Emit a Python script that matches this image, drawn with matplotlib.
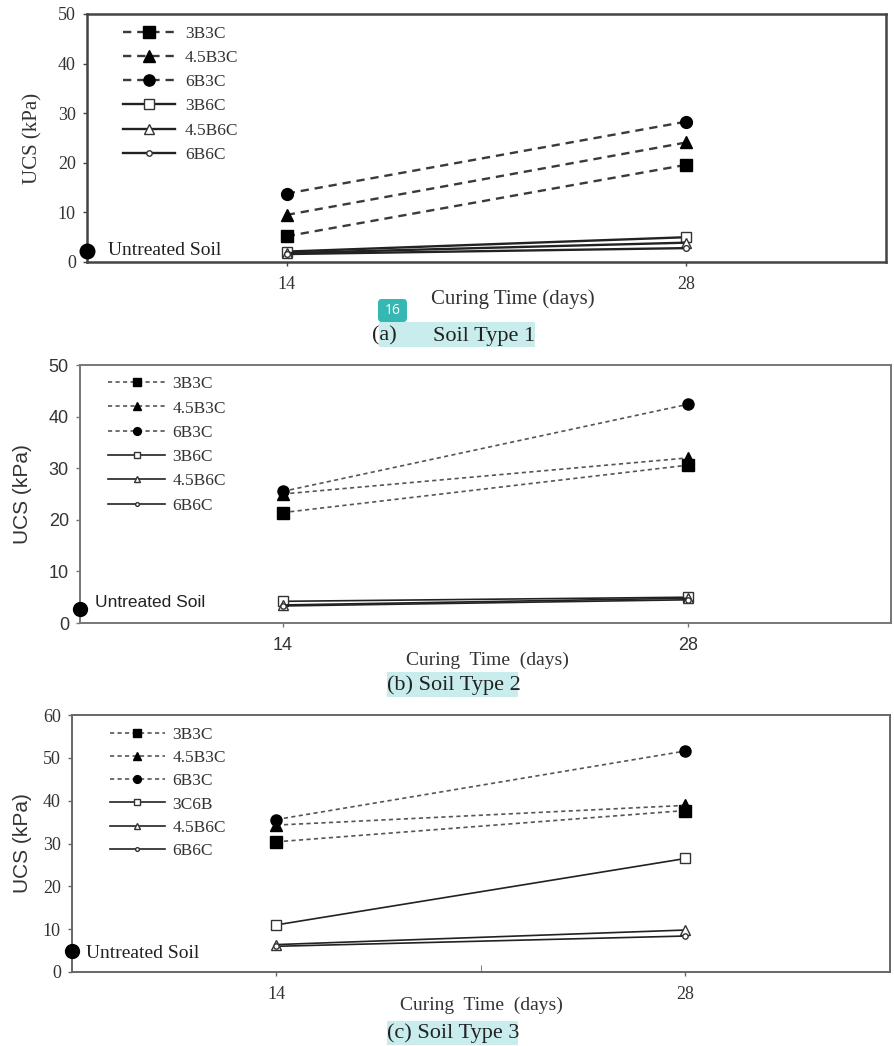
import matplotlib
matplotlib.use("Agg")
import matplotlib.pyplot as plt
from matplotlib.patches import Rectangle, FancyBboxPatch

# datos
days = [14, 28]
labels_ab = ["3B3C", "4.5B3C", "6B3C", "3B6C", "4.5B6C", "6B6C"]
labels_c = ["3B3C", "4.5B3C", "6B3C", "3C6B", "4.5B6C", "6B6C"]

soil1 = [[5.2, 19.6], [9.5, 24.1], [13.8, 28.3], [2.1, 5.0], [1.8, 3.9], [1.6, 2.8]]
soil2 = [[21.4, 30.6], [25.0, 32.0], [25.5, 42.4], [4.2, 5.0], [3.5, 4.8], [3.3, 4.5]]
soil3 = [[30.4, 37.7], [34.3, 38.9], [35.6, 51.6], [11.0, 26.5], [6.4, 9.8], [6.0, 8.4]]
untreated = [2.3, 2.8, 4.8]

W, H = 894, 1046
fig = plt.figure(figsize=(W / 100, H / 100), dpi=100)
serif = "Liberation Serif"
sans = "Liberation Sans"


def rect(l, t, r, b):
    return [l / W, 1 - b / H, (r - l) / W, (b - t) / H]


markers = ["s", "^", "o", "s", "^", "o"]
filled = [True, True, True, False, False, False]

panels = [
    dict(box=(87, 14, 886, 262), ymax=50, vals=soil1, labs=labels_ab, un=untreated[0],
         lw=1.7, dash=(3.5, 2.5), dcol="#3a3a3a", ms=8.5, ms_open=7.5, tickfont=serif,
         yfont=serif, unfont=serif, unsize=14, unxy=(7.75, 2.4), spcol="#444444", splw=1.8,
         leg=(0.045, 0.952), hl=3.0, htp=0.57, lsp=0.46, mscale=0.95, ylab=-0.056,
         xlab=(0.533, -0.11), xltext="Curing Time (days)", xlsize=15, minor=False),
    dict(box=(80, 365, 891, 623), ymax=50, vals=soil2, labs=labels_ab, un=untreated[1],
         lw=1.2, dash=(2.5, 2.0), dcol="#555555", ms=8, ms_open=7, tickfont=sans,
         yfont=sans, unfont=sans, unsize=12.5, unxy=(7.52, 3.9), spcol="#777777", splw=1.4,
         leg=(0.0345, 0.957), hl=3.3, htp=0.4, lsp=0.47, mscale=0.7, ylab=-0.059,
         xlab=(0.502, -0.112), xltext="Curing  Time  (days)", xlsize=14, minor=False),
    dict(box=(72, 715, 890, 972), ymax=60, vals=soil3, labs=labels_c, un=untreated[2],
         lw=1.2, dash=(2.5, 2.0), dcol="#555555", ms=8, ms_open=7, tickfont=serif,
         yfont=sans, unfont=serif, unsize=14, unxy=(7.48, 4.4), spcol="#666666", splw=1.4,
         leg=(0.046, 0.953), hl=3.2, htp=0.4, lsp=0.4, mscale=0.7, ylab=-0.049,
         xlab=(0.501, -0.098), xltext="Curing  Time  (days)", xlsize=14, minor=True),
]

for p in panels:
    ax = fig.add_axes(rect(*p["box"]))
    for i, (lab, v) in enumerate(zip(p["labs"], p["vals"])):
        if filled[i]:
            ln, = ax.plot(days, v, color=p["dcol"], lw=p["lw"], marker=markers[i],
                          ms=p["ms"], mfc="black", mec="black", label=lab, clip_on=False)
            ln.set_dashes(p["dash"])
        else:
            ms = p["ms_open"] if i < 5 else p["ms_open"] * 0.55
            ax.plot(days, v, color="#222222", lw=p["lw"], marker=markers[i], ms=ms,
                    mfc="white", mec="#333333", mew=1.0, label=lab, clip_on=False)
    ax.plot([7], [p["un"]], "o", color="black", ms=p["ms"] + 2, clip_on=False, zorder=5)
    ax.text(p["unxy"][0], p["unxy"][1], "Untreated Soil", family=p["unfont"],
            fontsize=p["unsize"], va="center", ha="left", color="#222222")

    ax.set_xlim(7, 35)
    ax.set_ylim(0, p["ymax"])
    ax.set_xticks(days)
    ax.set_xticklabels(["14", "28"])
    ax.set_yticks(range(0, p["ymax"] + 1, 10))
    if p["minor"]:
        ax.set_xticks([21], minor=True)
        ax.tick_params(axis="x", which="minor", direction="in", length=5, color=p["spcol"])
    ax.tick_params(axis="both", which="major", length=3, width=1, color=p["spcol"],
                   labelsize=13, pad=5)
    ax.tick_params(axis="x", which="major", pad=7)
    for t in ax.get_xticklabels() + ax.get_yticklabels():
        t.set_family(p["tickfont"])
        t.set_color("#333333")
    for s in ax.spines.values():
        s.set_color(p["spcol"])
        s.set_linewidth(p["splw"])

    ax.set_ylabel("UCS (kPa)", family=p["yfont"], fontsize=15, color="#333333")
    ax.yaxis.set_label_coords(p["ylab"], 0.5)
    ax.set_xlabel(p["xltext"], family=serif, fontsize=p["xlsize"], color="#333333")
    ax.xaxis.set_label_coords(*p["xlab"])

    leg = ax.legend(loc="upper left", bbox_to_anchor=p["leg"], frameon=False, numpoints=1,
                    handlelength=p["hl"], handletextpad=p["htp"], labelspacing=p["lsp"],
                    borderpad=0, borderaxespad=0, markerscale=p["mscale"],
                    prop={"family": serif, "size": 12.5})
    for t in leg.get_texts():
        t.set_color("#333333")

# leyendas de abajo con fondo resaltado
cap_boxes = [(379, 322, 535, 347), (387, 672, 518, 697), (387, 1021, 518, 1045)]
for (l, t, r, b) in cap_boxes:
    fig.patches.append(Rectangle((l / W, 1 - b / H), (r - l) / W, (b - t) / H,
                                 transform=fig.transFigure, facecolor="#c9eded",
                                 edgecolor="none", zorder=0))

fig.text(372 / W, 1 - 336 / H, "(a)", family=serif, fontsize=16, va="center", color="#222222")
fig.text(433 / W, 1 - 336 / H, "Soil Type 1", family=serif, fontsize=16, va="center",
         color="#222222")
fig.text(387 / W, 1 - 685 / H, "(b) Soil Type 2", family=serif, fontsize=16, va="center",
         color="#222222")
fig.text(387 / W, 1 - 1033 / H, "(c) Soil Type 3", family=serif, fontsize=16, va="center",
         color="#222222")

# etiqueta "16"
fig.patches.append(FancyBboxPatch((378 / W, 1 - 322 / H), 29 / W, 23 / H,
                                  boxstyle="round,pad=0,rounding_size=0.004",
                                  transform=fig.transFigure, facecolor="#35b8b4",
                                  edgecolor="none"))
fig.text(392.5 / W, 1 - 310.5 / H, "16", family="Open Sans", fontsize=10, color="white",
         ha="center", va="center")

fig.savefig("out.png", dpi=100)
